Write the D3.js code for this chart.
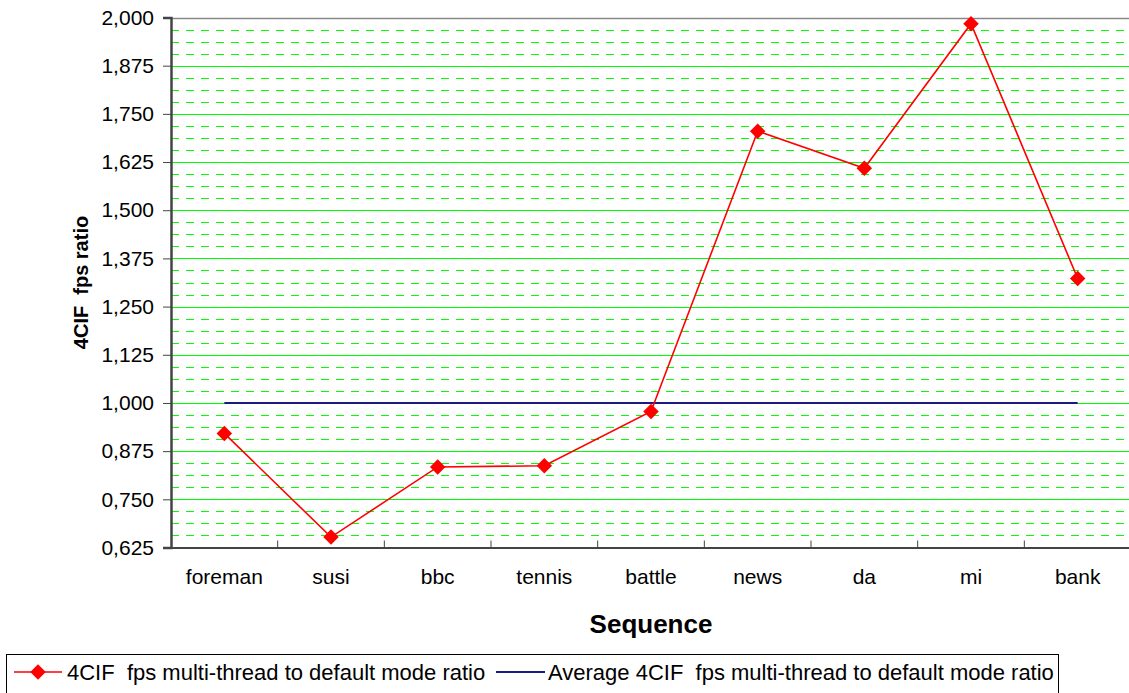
<!DOCTYPE html>
<html>
<head>
<meta charset="utf-8">
<script src="https://cdn.jsdelivr.net/npm/d3@7"></script>
<style>
  html, body { margin: 0; padding: 0; background: #fff; }
  svg { display: block; font-family: Arial, "Liberation Sans", sans-serif; }
</style>
</head>
<body>
<svg id="chart" width="1129" height="693"></svg>
<script>
const categories = ["foreman", "susi", "bbc", "tennis", "battle", "news", "da", "mi", "bank"];
const ratioValues = [0.921, 0.652, 0.834, 0.837, 0.978, 1.705, 1.609, 1.984, 1.323];
const averageValues = [1.0, 1.0, 1.0, 1.0, 1.0, 1.0, 1.0, 1.0, 1.0];
const yTickValues = [0.625, 0.750, 0.875, 1.000, 1.125, 1.250, 1.375, 1.500, 1.625, 1.750, 1.875, 2.000];
const seriesNames = ["4CIF  fps multi-thread to default mode ratio", "Average 4CIF  fps multi-thread to default mode ratio"];
const yTitle = "4CIF  fps ratio";
const xTitle = "Sequence";

const svg = d3.select("#chart");
const pLeft = 171, pRight = 1131, pTop = 17.5, pBottom = 547.5;
const FONT = "Arial, 'Liberation Sans', sans-serif";

const x = d3.scaleBand().domain(categories).range([pLeft, pRight]).padding(0);
const y = d3.scaleLinear().domain([0.625, 2.0]).range([pBottom, pTop]);
const cx = d => x(d) + x.bandwidth() / 2;

// dashed minor grid pattern
const defs = svg.append("defs");
const pat = defs.append("pattern").attr("id", "dash").attr("patternUnits", "userSpaceOnUse")
  .attr("x", pLeft).attr("y", 0).attr("width", 15).attr("height", 2);
pat.append("rect").attr("x", 0).attr("y", 0).attr("width", 8).attr("height", 2).attr("fill", "#00ff00");

// minor grid (dashed) - 3 between each major
const minor = [];
for (let i = 0; i < yTickValues.length - 1; i++) {
  const step = (yTickValues[i + 1] - yTickValues[i]) / 4;
  for (let k = 1; k < 4; k++) minor.push(yTickValues[i] + k * step);
}
const grid = svg.append("g").attr("shape-rendering", "crispEdges");
grid.append("g").selectAll("rect").data(minor).join("rect")
  .attr("x", pLeft).attr("width", pRight - pLeft)
  .attr("y", d => Math.round(y(d))).attr("height", 1)
  .attr("fill", "url(#dash)");

// major grid (solid)
grid.append("g").selectAll("rect").data(yTickValues.slice(1, -1)).join("rect")
  .attr("x", pLeft).attr("width", pRight - pLeft)
  .attr("y", d => Math.round(y(d))).attr("height", 1)
  .attr("fill", "#00ff00");

// top border
svg.append("line").attr("x1", pLeft).attr("x2", pRight)
  .attr("y1", Math.round(y(2.0)) + 0.5).attr("y2", Math.round(y(2.0)) + 0.5)
  .attr("stroke", "#888").attr("stroke-width", 1.5);

// Y axis
const yAxis = d3.axisLeft(y).tickValues(yTickValues).tickSize(8).tickPadding(9)
  .tickFormat(d => d3.format(".3f")(d).replace(".", ","));
const gy = svg.append("g").attr("transform", `translate(${pLeft},0)`).call(yAxis);
gy.select(".domain").attr("stroke", "#444").attr("stroke-width", 2.5);
gy.selectAll(".tick line").attr("stroke", "#444");
gy.selectAll(".tick text").attr("font-size", 21).attr("fill", "#000")
  .attr("font-family", FONT);

// X axis
const xAxis = d3.axisBottom(x).tickSize(0).tickPadding(22);
const gx = svg.append("g").attr("transform", `translate(0,${pBottom})`).call(xAxis);
gx.select(".domain").attr("stroke", "#444").attr("stroke-width", 2);
gx.selectAll(".tick text").attr("font-size", 21).attr("fill", "#000")
  .attr("font-family", FONT);
// separator ticks between categories
svg.append("g").selectAll("line").data(categories.slice(1)).join("line")
  .attr("x1", d => x(d)).attr("x2", d => x(d))
  .attr("y1", pBottom - 7).attr("y2", pBottom)
  .attr("stroke", "#444").attr("stroke-width", 1);

// Average line
const line = d3.line().x((d, i) => cx(categories[i])).y(d => y(d));
svg.append("path").datum(averageValues).attr("d", line)
  .attr("fill", "none").attr("stroke", "#1a1a80").attr("stroke-width", 2);

// Ratio line
svg.append("path").datum(ratioValues).attr("d", line)
  .attr("fill", "none").attr("stroke", "#ff0000").attr("stroke-width", 1.6);

const diamond = d3.symbol().type(d3.symbolSquare).size(120);
svg.append("g").selectAll("path").data(ratioValues).join("path")
  .attr("d", diamond)
  .attr("transform", (d, i) => `translate(${cx(categories[i])},${y(d)}) rotate(45)`)
  .attr("fill", "#ff0000");

// Axis titles
svg.append("text").attr("transform", `translate(88,${(pTop + pBottom) / 2}) rotate(-90)`)
  .attr("text-anchor", "middle").attr("font-size", 20).attr("font-weight", "bold")
  .style("white-space", "pre")
  .text(yTitle);
svg.append("text").attr("x", 651).attr("y", 633)
  .attr("text-anchor", "middle").attr("font-size", 26).attr("font-weight", "bold")
  .text(xTitle);

// Legend
const lg = svg.append("g");
lg.append("rect").attr("x", 6.5).attr("y", 654.5).attr("width", 1052).attr("height", 45)
  .attr("fill", "#fff").attr("stroke", "#000").attr("stroke-width", 1);
lg.append("line").attr("x1", 14).attr("x2", 62).attr("y1", 672).attr("y2", 672)
  .attr("stroke", "#ff0000").attr("stroke-width", 1.6);
lg.append("path").attr("d", diamond).attr("transform", "translate(38,672) rotate(45)").attr("fill", "#ff0000");
lg.append("text").attr("x", 67).attr("y", 680).attr("font-size", 22)
  .style("white-space", "pre").text(seriesNames[0]);
lg.append("line").attr("x1", 496).attr("x2", 545).attr("y1", 672).attr("y2", 672)
  .attr("stroke", "#1a1a80").attr("stroke-width", 2);
lg.append("text").attr("x", 548).attr("y", 680).attr("font-size", 22)
  .style("white-space", "pre").text(seriesNames[1]);
</script>
</body>
</html>
